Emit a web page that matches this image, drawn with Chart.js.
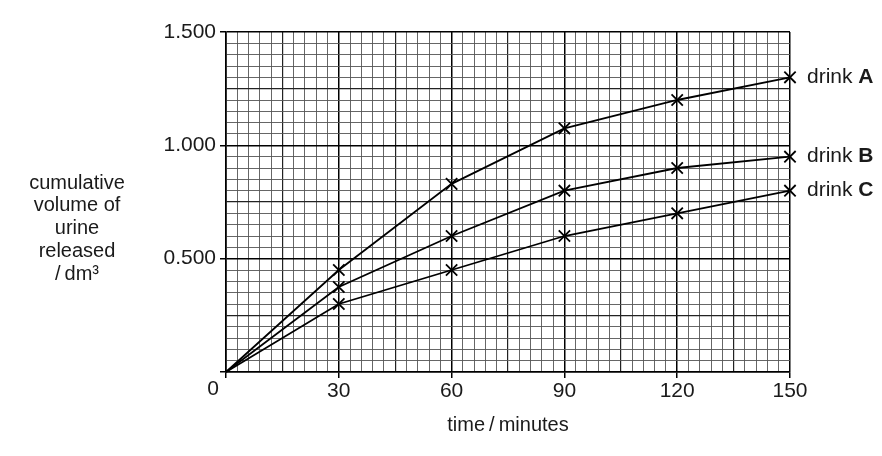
<!DOCTYPE html>
<html>
<head>
<meta charset="utf-8">
<script src="https://cdn.jsdelivr.net/npm/chart.js@4.4.1/dist/chart.umd.min.js"></script>
<style>
html,body{margin:0;padding:0;background:#fff;}
#wrap{width:882px;height:456px;}
</style>
</head>
<body>
<div id="wrap"><canvas id="c" width="882" height="456"></canvas></div>
<script>
const times = [0, 30, 60, 90, 120, 150];
const drinkA = [0, 0.45, 0.83, 1.075, 1.2, 1.3];
const drinkB = [0, 0.375, 0.6, 0.8, 0.9, 0.95];
const drinkC = [0, 0.3, 0.45, 0.6, 0.7, 0.8];
const seriesNames = ['A', 'B', 'C'];
const yTitleLines = ['cumulative', 'volume of', 'urine', 'released', '/\u2009dm\u00B3'];
const xTitle = 'time\u2009/\u2009minutes';

const FONT = "'Liberation Sans', Arial, Helvetica, sans-serif";

function mk(vals, name) {
  return {
    label: 'drink ' + name,
    data: times.map((t, i) => ({x: t, y: vals[i]})),
    borderColor: '#000',
    backgroundColor: '#000',
    borderWidth: 1.8,
    tension: 0,
    pointStyle: 'crossRot',
    pointRadius: ctx => ctx.dataIndex === 0 ? 0 : 8,
    pointHoverRadius: 8,
    pointBorderWidth: 1.8,
    pointBorderColor: '#000',
    clip: false,
    seriesName: name
  };
}

const labelPlugin = {
  id: 'labels',
  afterDatasetsDraw(chart) {
    const ctx = chart.ctx;
    const xs = chart.scales.x, ys = chart.scales.y;
    ctx.save();
    ctx.fillStyle = '#1a1a1a';
    ctx.textBaseline = 'middle';
    chart.data.datasets.forEach(ds => {
      const last = ds.data[ds.data.length - 1];
      const px = xs.getPixelForValue(last.x) + 17;
      const py = ys.getPixelForValue(last.y);
      ctx.font = "21px " + FONT;
      ctx.textAlign = 'left';
      const t1 = 'drink ';
      ctx.fillText(t1, px, py);
      const w = ctx.measureText(t1).width;
      ctx.font = "bold 21px " + FONT;
      ctx.fillText(ds.seriesName, px + w, py);
    });
    // y-axis title lines
    ctx.font = "20px " + FONT;
    ctx.textAlign = 'center';
    const y0 = 183, lh = 22.8;
    yTitleLines.forEach((s, i) => ctx.fillText(s, 77, y0 + i * lh));
    // origin label
    ctx.font = "21px " + FONT;
    ctx.fillText('0', xs.getPixelForValue(0) - 13, ys.getPixelForValue(0) + 17);
    ctx.restore();
  }
};

function isMult(v, step) {
  const r = v / step;
  return Math.abs(r - Math.round(r)) < 1e-6;
}

new Chart(document.getElementById('c'), {
  type: 'line',
  data: { datasets: [mk(drinkA, seriesNames[0]), mk(drinkB, seriesNames[1]), mk(drinkC, seriesNames[2])] },
  plugins: [labelPlugin],
  options: {
    responsive: false,
    animation: false,
    events: [],
    layout: { padding: { left: 0, right: 92, top: 32, bottom: 0 } },
    plugins: { legend: { display: false }, tooltip: { enabled: false } },
    scales: {
      x: {
        type: 'linear',
        min: 0, max: 150,
        afterFit(s) { s.height = 84; },
        border: { display: true, color: '#000', width: 1.6 },
        grid: {
          color: c => isMult(c.tick.value, 30) ? '#000' : (isMult(c.tick.value, 15) ? '#222' : '#555'),
          lineWidth: c => isMult(c.tick.value, 30) ? 1.5 : (isMult(c.tick.value, 15) ? 1.2 : 0.9),
          tickColor: c => isMult(c.tick.value, 30) ? '#000' : 'rgba(0,0,0,0)',
          tickLength: 6,
          tickWidth: 1.5
        },
        ticks: {
          stepSize: 3,
          autoSkip: false,
          maxRotation: 0,
          padding: 1,
          color: '#1a1a1a',
          font: { family: FONT, size: 21 },
          callback: v => (isMult(v, 30) && v !== 0) ? String(Math.round(v)) : ''
        },
        title: {
          display: true,
          text: xTitle,
          color: '#1a1a1a',
          font: { family: FONT, size: 20 },
          padding: { top: 4, bottom: 19 }
        }
      },
      y: {
        type: 'linear',
        min: 0, max: 1.5,
        afterFit(s) { s.width = 226; },
        border: { display: true, color: '#000', width: 1.6 },
        grid: {
          color: c => isMult(c.tick.value, 0.5) ? '#000' : (isMult(c.tick.value, 0.25) ? '#222' : '#555'),
          lineWidth: c => isMult(c.tick.value, 0.5) ? 1.5 : (isMult(c.tick.value, 0.25) ? 1.2 : 0.9),
          tickColor: c => isMult(c.tick.value, 0.5) ? '#000' : 'rgba(0,0,0,0)',
          tickLength: 6,
          tickWidth: 1.5
        },
        ticks: {
          stepSize: 0.05,
          autoSkip: false,
          padding: 4,
          color: '#1a1a1a',
          font: { family: FONT, size: 21 },
          callback: v => (isMult(v, 0.5) && Math.abs(v) > 1e-9) ? v.toFixed(3) : ''
        }
      }
    }
  }
});
</script>
</body>
</html>
